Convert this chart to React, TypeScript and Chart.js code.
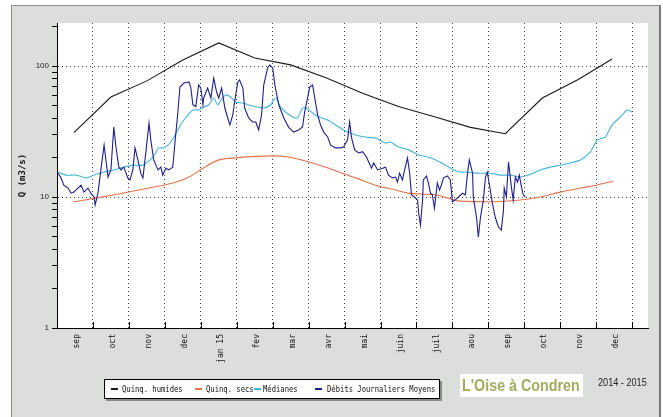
import React, { useEffect, useRef } from 'react';
import { Chart, registerables } from 'chart.js';

Chart.register(...registerables);

// month labels placed in the middle of each month interval
const MONTHS = ['sep', 'oct', 'nov', 'dec', 'jan 15', 'fev', 'mar', 'avr', 'mai', 'juin', 'juil', 'aou', 'sep', 'oct', 'nov', 'dec'];
const X_MAX = 16.44; // month index at the right edge of the plot
const Y_MIN = 1;
const Y_MAX = 213;
const Y_TICKS = [1, 2, 3, 4, 5, 6, 7, 8, 9, 10, 20, 30, 40, 50, 60, 70, 80, 90, 100, 200];
const Y_LABELED = [1, 10, 100];

// [month index, Q (m3/s)]
const HUMIDES: [number, number][] = [
  [0.47, 31], [1.5, 58], [2.5, 77], [3.5, 111], [4.5, 150], [5.5, 115], [6.5, 102], [7.5, 81],
  [8.5, 62], [9.5, 49], [10.5, 41], [11.5, 34], [12.47, 30.4], [13.5, 57], [14.5, 79], [15.44, 113],
];

const SECS: [number, number][] = [
  [0.44, 9.16], [1.08, 9.8], [1.83, 10.7], [2.56, 11.7], [3.22, 12.8], [3.67, 14.2], [4.06, 16.6],
  [4.5, 19.2], [4.97, 19.9], [6.0, 20.6], [6.44, 20.2], [7.0, 18.5], [7.56, 16.6], [7.94, 15.2],
  [8.31, 14.0], [8.86, 12.3], [9.42, 11.3], [9.78, 10.7], [10.53, 10.4], [11.22, 9.3], [12.06, 9.2],
  [12.89, 9.5], [13.44, 10.0], [14.0, 10.9], [14.56, 11.7], [15.0, 12.3], [15.47, 13.2],
];

const MEDIANES: [number, number][] = [
  [0.03, 15.5], [0.25, 14.7], [0.53, 14.7], [0.81, 14.0], [1.03, 14.7], [1.31, 15.5], [1.58, 16.1],
  [1.86, 16.9], [2.14, 17.5], [2.39, 17.5], [2.67, 20.2], [2.83, 23.7], [2.97, 23.7], [3.17, 26.3],
  [3.36, 32.5], [3.53, 38.7], [3.78, 46.1], [3.94, 46.1], [4.08, 48.6], [4.22, 50.4], [4.36, 57.0],
  [4.47, 50.4], [4.56, 55.0], [4.69, 60.1], [4.83, 58.0], [4.97, 53.1], [5.17, 52.2], [5.33, 50.4],
  [5.58, 48.6], [5.75, 47.8], [5.94, 50.4], [6.08, 57.0], [6.22, 48.6], [6.36, 44.6], [6.56, 40.8],
  [6.69, 40.1], [6.83, 47.8], [6.92, 47.8], [7.11, 43.8], [7.28, 40.8], [7.53, 38.7], [7.75, 35.5],
  [7.97, 32.5], [8.31, 29.7], [8.58, 28.7], [8.86, 28.2], [9.14, 25.8], [9.28, 26.3], [9.5, 24.1],
  [9.78, 22.9], [10.06, 20.9], [10.31, 20.2], [10.53, 19.2], [10.81, 17.5], [11.03, 16.1],
  [11.22, 15.5], [11.36, 15.5], [11.78, 15.2], [12.06, 15.2], [12.33, 14.7], [12.61, 14.7],
  [12.89, 14.2], [13.11, 14.7], [13.31, 15.5], [13.44, 16.1], [13.72, 16.9], [14.0, 17.5],
  [14.28, 18.2], [14.56, 19.2], [14.83, 22.0], [15.03, 27.2], [15.25, 28.7], [15.44, 35.5],
  [15.67, 40.8], [15.86, 46.1], [16.0, 44.6],
];

const DEBITS: [number, number][] = [
  [0.03, 15.2], [0.11, 14.0], [0.19, 12.3], [0.31, 11.7], [0.39, 10.7], [0.47, 10.9], [0.58, 11.7],
  [0.67, 12.3], [0.75, 10.9], [0.86, 11.7], [0.94, 10.7], [1.03, 10.0], [1.06, 8.7], [1.14, 10.7],
  [1.22, 16.1], [1.31, 24.9], [1.36, 19.2], [1.42, 14.2], [1.5, 16.1], [1.58, 34.2], [1.64, 24.1],
  [1.72, 16.9], [1.78, 16.1], [1.86, 16.9], [1.97, 14.0], [2.03, 13.5], [2.11, 16.1], [2.17, 23.7],
  [2.25, 19.2], [2.33, 15.2], [2.39, 14.0], [2.47, 21.7], [2.56, 36.7], [2.61, 27.2], [2.69, 19.2],
  [2.81, 16.1], [2.89, 16.9], [2.94, 14.7], [3.03, 16.6], [3.11, 16.1], [3.22, 16.9], [3.28, 25.8],
  [3.36, 43.8], [3.42, 69.1], [3.53, 74.2], [3.67, 75.5], [3.72, 69.1], [3.78, 50.4], [3.86, 49],
  [3.94, 71.6], [4.0, 67.9], [4.06, 50.4], [4.08, 57.0], [4.19, 67.9], [4.28, 57.0], [4.36, 80.9],
  [4.44, 63.3], [4.5, 57.0], [4.58, 67.9], [4.67, 47.8], [4.75, 40.1], [4.81, 35.5], [4.89, 42.3],
  [4.94, 53.1], [5.03, 75.5], [5.08, 78.2], [5.17, 67.9], [5.22, 47.8], [5.33, 40.1], [5.44, 37.4],
  [5.53, 37.4], [5.61, 32.5], [5.69, 42.3], [5.75, 71.6], [5.86, 96.6], [5.92, 101.8], [6.0, 96.6],
  [6.06, 71.6], [6.17, 50.4], [6.31, 40.1], [6.44, 34.2], [6.58, 31.3], [6.72, 32.5], [6.83, 34.2],
  [6.89, 44.6], [6.97, 57.0], [7.03, 69.1], [7.11, 71.6], [7.17, 57.0], [7.25, 42.3], [7.33, 35.5],
  [7.42, 31.3], [7.53, 28.7], [7.61, 24.9], [7.75, 23.7], [7.89, 23.7], [7.97, 24.1], [8.08, 27.2],
  [8.14, 37.4], [8.19, 28.7], [8.28, 22.9], [8.39, 21.7], [8.5, 22.2], [8.61, 20.2], [8.67, 18.5],
  [8.75, 16.6], [8.81, 18.2], [8.92, 16.1], [9.06, 16.6], [9.14, 16.9], [9.22, 14.7], [9.33, 14.0],
  [9.42, 14.2], [9.47, 13.0], [9.53, 15.2], [9.61, 13.5], [9.67, 16.1], [9.75, 19.9], [9.81, 15.2],
  [9.86, 10.4], [9.94, 10.0], [10.03, 9.5], [10.06, 7.55], [10.11, 6.1], [10.17, 9.5], [10.19, 13.5],
  [10.28, 14.5], [10.33, 12.8], [10.39, 10.7], [10.44, 10.4], [10.5, 8.2], [10.58, 12.8],
  [10.64, 11.3], [10.69, 12.3], [10.75, 14.0], [10.86, 14.5], [10.94, 13.5], [11.0, 9.2],
  [11.08, 9.5], [11.17, 10.0], [11.28, 10.7], [11.36, 10.4], [11.42, 15.2], [11.47, 19.2],
  [11.56, 15.2], [11.58, 10.0], [11.67, 7.0], [11.72, 4.95], [11.78, 7.0], [11.86, 9.5],
  [11.92, 14.2], [11.97, 15.5], [12.03, 12.3], [12.11, 9.0], [12.19, 7.0], [12.28, 5.9],
  [12.36, 5.6], [12.42, 8.0], [12.44, 11.7], [12.5, 10.0], [12.56, 18.5], [12.64, 11.9],
  [12.69, 9.5], [12.75, 14.2], [12.81, 13.0], [12.86, 14.7], [12.92, 11.9], [12.97, 10.4],
  [13.03, 10.0],
];

const SERIES = [
  { label: 'Quinq. humides', color: '#1a1a1a', pts: HUMIDES, tension: 0, order: 3, mono: false },
  { label: 'Quinq. secs', color: '#e2734e', pts: SECS, tension: 0, order: 2, mono: true },
  { label: 'Médianes', color: '#45b5d5', pts: MEDIANES, tension: 0.2, order: 1, mono: false },
  { label: 'Débits Journaliers Moyens', color: '#1f1f8c', pts: DEBITS, tension: 0, order: 0, mono: false },
];

const LEGEND_POS = [
  { sample: 6, text: 17 },
  { sample: 90, text: 101 },
  { sample: 149, text: 158 },
  { sample: 210, text: 222 },
];

const GRID_COLOR = '#3a3a3a';
const NONE = 'rgba(0,0,0,0)';

const areaPlugin = {
  id: 'areaBg',
  beforeDraw(chart: any) {
    const { ctx, chartArea } = chart;
    ctx.save();
    ctx.fillStyle = '#ffffff';
    ctx.fillRect(chartArea.left, chartArea.top, chartArea.right - chartArea.left, chartArea.bottom - chartArea.top);
    ctx.restore();
  },
  afterDraw(chart: any) {
    const { ctx, chartArea } = chart;
    const xs = chart.scales.x;
    ctx.save();
    ctx.strokeStyle = '#000';
    ctx.lineWidth = 1;
    for (let i = 1; i <= MONTHS.length; i++) {
      const px = Math.round(xs.getPixelForValue(i)) + 0.5;
      ctx.beginPath();
      ctx.moveTo(px, chartArea.bottom - 6);
      ctx.lineTo(px, chartArea.bottom);
      ctx.stroke();
    }
    ctx.restore();
  },
};

export default function App() {
  const ref = useRef<HTMLCanvasElement>(null);

  useEffect(() => {
    const canvas = ref.current;
    if (!canvas) return;
    const chart = new Chart(canvas, {
      type: 'line',
      data: {
        datasets: SERIES.map((s) => ({
          label: s.label,
          data: s.pts.map(([x, y]) => ({ x, y })),
          borderColor: s.color,
          backgroundColor: s.color,
          borderWidth: 1.1,
          pointRadius: 0,
          tension: s.tension,
          cubicInterpolationMode: s.mono ? 'monotone' : 'default',
          order: s.order,
          fill: false,
        })),
      },
      options: {
        responsive: false,
        animation: false,
        devicePixelRatio: 1,
        layout: { autoPadding: false, padding: { left: 16, top: 23, right: 15, bottom: 49 } },
        plugins: { legend: { display: false }, tooltip: { enabled: false }, title: { display: false } },
        scales: {
          x: {
            type: 'linear',
            min: 0,
            max: X_MAX,
            afterBuildTicks: (scale: any) => {
              const t: any[] = [];
              for (let i = 0; i < MONTHS.length; i++) {
                t.push({ value: i + 0.5 });
                t.push({ value: i + 1 });
              }
              scale.ticks = t;
            },
            afterFit: (scale: any) => {
              scale.height = 40;
            },
            grid: {
              color: (ctx: any) => (ctx.tick && Number.isInteger(ctx.tick.value) ? GRID_COLOR : NONE),
              drawTicks: false,
              lineWidth: 1,
            },
            border: { display: true, color: '#000', width: 1, dash: [1, 3] },
            ticks: {
              autoSkip: false,
              minRotation: 90,
              maxRotation: 90,
              padding: 6,
              labelOffset: 2,
              color: '#111',
              font: { family: 'DejaVu Sans Mono', size: 8 },
              callback: (value: any) => {
                const v = Number(value);
                if (Number.isInteger(v)) return '';
                return MONTHS[Math.floor(v)];
              },
            },
          },
          y: {
            type: 'logarithmic',
            min: Y_MIN,
            max: Y_MAX,
            afterBuildTicks: (scale: any) => {
              scale.ticks = Y_TICKS.map((v) => ({ value: v, major: Y_LABELED.includes(v) }));
            },
            afterFit: (scale: any) => {
              scale.width = 41;
            },
            grid: {
              color: (ctx: any) => (ctx.tick && (ctx.tick.value === 10 || ctx.tick.value === 100) ? GRID_COLOR : NONE),
              drawTicks: true,
              tickLength: 5,
              tickColor: '#000',
              tickBorderDash: [],
              lineWidth: 1,
            },
            border: { display: true, color: '#000', width: 1, dash: [1, 3] },
            ticks: {
              autoSkip: false,
              padding: 3,
              color: '#222',
              font: { family: 'Liberation Sans', size: 8 },
              callback: (value: any) => (Y_LABELED.includes(Number(value)) ? String(value) : ''),
            },
            title: {
              display: true,
              text: 'Q (m3/s)',
              color: '#111',
              padding: { top: 1, bottom: 0 },
              font: { family: 'DejaVu Sans Mono', size: 9, weight: 'bold' },
            },
          },
        },
      } as any,
      plugins: [areaPlugin],
    });
    return () => chart.destroy();
  }, []);

  return (
    <div style={{ position: 'fixed', left: 0, top: 0, width: 663, height: 417, background: '#fff', overflow: 'hidden' }}>
      <div
        style={{
          position: 'absolute', left: 11, top: 5, width: 650, height: 430, boxSizing: 'border-box',
          background: '#dcdedc', borderLeft: '1px solid #8a8a8a', borderTop: '1px solid #8a8a8a', borderRight: '2px solid #7a7a7a',
        }}
      />
      <canvas ref={ref} width={663} height={417} style={{ position: 'absolute', left: 0, top: 0 }} />
      <div
        style={{
          position: 'absolute', left: 104, top: 379, width: 336, height: 20, boxSizing: 'border-box',
          background: '#fff', border: '1px solid #000', boxShadow: '2px 2px 0 #8a8a8a',
        }}
      >
        {SERIES.map((s, i) => (
          <React.Fragment key={s.label}>
            <div style={{ position: 'absolute', left: LEGEND_POS[i].sample, top: 8, width: 7, height: 2, background: s.color }} />
            <div
              style={{
                position: 'absolute', left: LEGEND_POS[i].text, top: 3, whiteSpace: 'nowrap',
                fontFamily: 'DejaVu Sans Mono', fontSize: 9, lineHeight: '12px', color: '#111',
                transform: 'scaleX(0.8)', transformOrigin: 'left center',
              }}
            >
              {s.label}
            </div>
          </React.Fragment>
        ))}
      </div>
      <div
        style={{
          position: 'absolute', left: 460, top: 374, width: 123, height: 23, background: '#fff',
          overflow: 'hidden',
        }}
      >
        <div
          style={{
            position: 'absolute', left: 2, top: 1, whiteSpace: 'nowrap', fontFamily: 'Liberation Sans, Arial, sans-serif',
            fontSize: 17, fontWeight: 'bold', lineHeight: '21px', color: '#a2aa5e',
            transform: 'scaleX(0.84)', transformOrigin: 'left center',
          }}
        >
          L'Oise à Condren
        </div>
      </div>
      <div
        style={{
          position: 'absolute', left: 598, top: 376, whiteSpace: 'nowrap', fontFamily: 'Liberation Sans, Arial, sans-serif',
          fontSize: 11, lineHeight: '13px', color: '#222', transform: 'scaleX(0.83)', transformOrigin: 'left center',
        }}
      >
        2014 - 2015
      </div>
    </div>
  );
}
